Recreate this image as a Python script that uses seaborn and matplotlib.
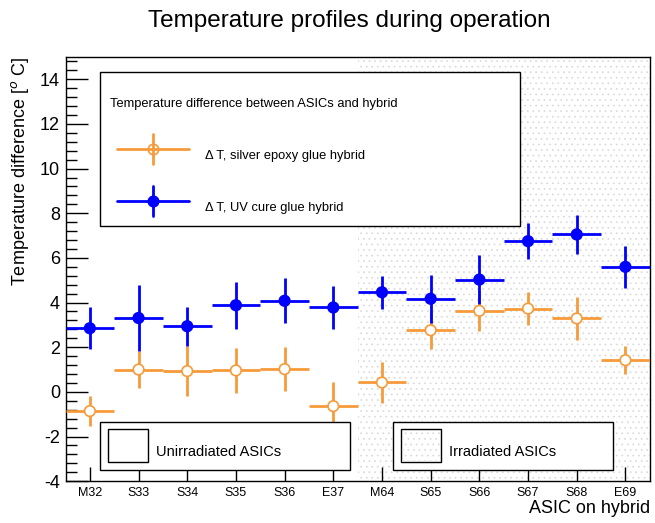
import numpy as np
import pandas as pd
import matplotlib
matplotlib.use("Agg")
import matplotlib.pyplot as plt
import seaborn as sns
from matplotlib.patches import Rectangle
from matplotlib.ticker import MultipleLocator

# data
asics = ["M32", "S33", "S34", "S35", "S36", "E37",
         "M64", "S65", "S66", "S67", "S68", "E69"]
uv_dt = [2.85, 3.31, 2.94, 3.88, 4.08, 3.78, 4.46, 4.17, 5.03, 6.75, 7.05, 5.60]
uv_err = [0.93, 1.47, 0.87, 1.05, 1.00, 0.95, 0.73, 1.07, 1.10, 0.80, 0.87, 0.93]
silver_dt = [-0.86, 1.00, 0.93, 0.96, 1.02, -0.64, 0.42, 2.76, 3.63, 3.73, 3.29, 1.42]
silver_err = [0.68, 0.82, 1.12, 1.00, 1.00, 1.06, 0.90, 0.84, 0.90, 0.73, 0.98, 0.63]

orange = "#F79A3A"
blue = "#0000FF"

df = pd.DataFrame({
    "asic": asics * 2,
    "pos": list(np.arange(len(asics)) + 0.5) * 2,
    "dt": silver_dt + uv_dt,
    "err": silver_err + uv_err,
    "glue": ["silver"] * len(asics) + ["uv"] * len(asics),
})

sns.set_style("white")
plt.rcParams["font.family"] = ["Liberation Sans", "DejaVu Sans"]
plt.rcParams["axes.unicode_minus"] = False
plt.rcParams["text.color"] = "black"
plt.rcParams["xtick.color"] = "black"
plt.rcParams["ytick.color"] = "black"
plt.rcParams["hatch.linewidth"] = 0.5
plt.rcParams["hatch.color"] = "#d9d9d9"

fig = plt.figure(figsize=(6.55, 5.23), dpi=100)
ax = fig.add_axes([0.100, 0.080, 0.892, 0.811])

# irradiated region
ax.add_patch(Rectangle((6, -4), 6, 19, facecolor="white", edgecolor="#d9d9d9",
                       hatch="...", linewidth=0, zorder=0))

for g, sub in df.groupby("glue"):
    c = orange if g == "silver" else blue
    ax.errorbar(sub["pos"], sub["dt"], xerr=0.5, yerr=sub["err"], fmt="none",
                ecolor=c, elinewidth=2, capsize=0, zorder=3)
sns.scatterplot(data=df, x="pos", y="dt", hue="glue",
                palette={"silver": orange, "uv": blue},
                s=58, legend=False, ax=ax, zorder=4, linewidth=1.2)
# open circles for silver epoxy
coll = ax.collections[-1]
coll.set_facecolors([("white" if g == "silver" else blue) for g in df["glue"]])
coll.set_edgecolors([(orange if g == "silver" else blue) for g in df["glue"]])

ax.set_xlim(0, 12)
ax.set_ylim(-4, 15)
ax.set_xticks(np.arange(len(asics)) + 0.5)
ax.set_xticklabels(asics, fontsize=9)
ax.yaxis.set_major_locator(MultipleLocator(2))
ax.yaxis.set_minor_locator(MultipleLocator(0.4))
ax.tick_params(axis="y", which="major", direction="in", length=16, width=1,
               labelsize=13, left=True, pad=4)
ax.tick_params(axis="y", which="minor", direction="in", length=8, width=1, left=True)
ax.tick_params(axis="x", which="major", direction="in", length=10, width=1,
               bottom=True, pad=4)
for s in ax.spines.values():
    s.set_color("black")
    s.set_linewidth(1)
ax.set_xlabel("")
ax.set_ylabel("")

fig.text(0.533, 0.960, "Temperature profiles during operation", ha="center",
         va="center", fontsize=17.5)
fig.text(0.030, 0.891, "Temperature difference [$^{o}$ C]", rotation=90,
         ha="center", va="top", fontsize=13)
fig.text(0.992, 0.027, "ASIC on hybrid", ha="right", va="center", fontsize=13)


def px(x, y):
    return x / 655, 1 - y / 523


# legend box
lx, ly = px(100, 226)
fig.patches.append(Rectangle((lx, ly), 420 / 655, 154 / 523, transform=fig.transFigure,
                             facecolor="white", edgecolor="black", lw=1, zorder=5))
fig.text(*px(110, 104), "Temperature difference between ASICs and hybrid",
         fontsize=9.3, va="center", zorder=6)
for (yy, c, fc, lab) in [(149, orange, "none", "\u0394 T, silver epoxy glue hybrid"),
                         (201, blue, blue, "\u0394 T, UV cure glue hybrid")]:
    x0, y0 = px(117, yy)
    x1, _ = px(189, yy)
    xm, _ = px(153, yy)
    fig.lines.append(plt.Line2D([x0, x1], [y0, y0], color=c, lw=2,
                                transform=fig.transFigure, zorder=6))
    fig.lines.append(plt.Line2D([xm, xm], [y0 - 15 / 523, y0 + 15 / 523], color=c, lw=2,
                                transform=fig.transFigure, zorder=6))
    fig.lines.append(plt.Line2D([xm], [y0], marker="o", ms=7.5, mfc=fc, mec=c, mew=1.2,
                                transform=fig.transFigure, zorder=7))
    fig.text(*px(205, yy + 7), lab, fontsize=9.3, va="center", zorder=6)

# region boxes
for (bx, bw, lab, hatch) in [(100, 250, "Unirradiated ASICs", None),
                             (393, 220, "Irradiated ASICs", "...")]:
    x0, y0 = px(bx, 470)
    fig.patches.append(Rectangle((x0, y0), bw / 655, 48 / 523, transform=fig.transFigure,
                                 facecolor="white", edgecolor="black", lw=1, zorder=5))
    sx, sy = px(bx + 8, 462)
    fig.patches.append(Rectangle((sx, sy), 40 / 655, 33 / 523, transform=fig.transFigure,
                                 facecolor="white", edgecolor="black", lw=1, zorder=6))
    if hatch:
        fig.patches.append(Rectangle((sx, sy), 40 / 655, 33 / 523, transform=fig.transFigure,
                                     facecolor="none", edgecolor="#d9d9d9", hatch=hatch,
                                     lw=0, zorder=6))
    fig.text(*px(bx + 56, 452), lab, fontsize=10.5, va="center", zorder=7)

fig.savefig("out.png", dpi=100)
